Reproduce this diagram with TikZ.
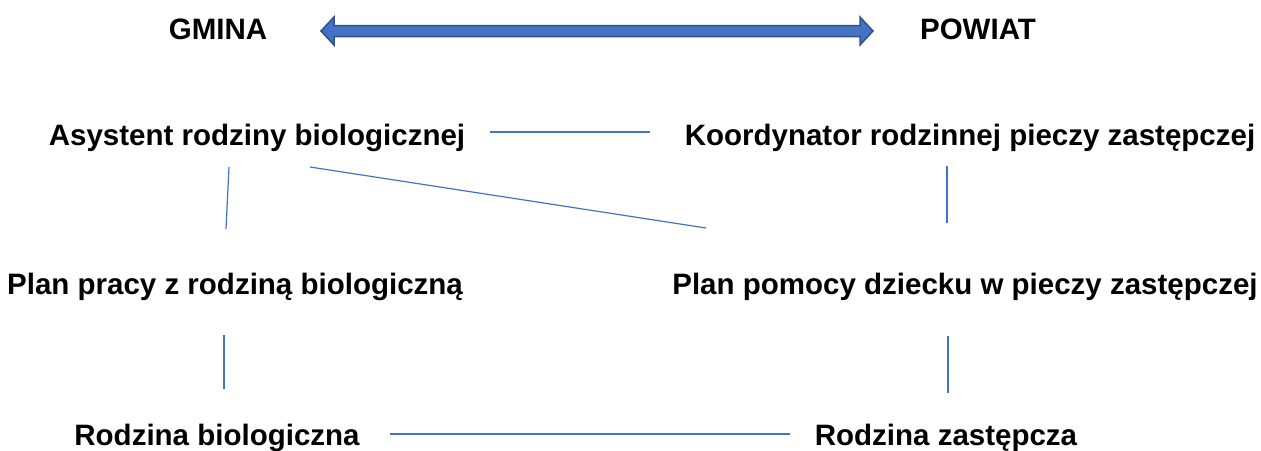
\documentclass[tikz,border=0pt]{standalone}
\usepackage{fontspec}
\setmainfont{Liberation Sans}
\definecolor{lineblue}{HTML}{4472C4}
\definecolor{arrowedge}{HTML}{2F528F}
\begin{document}
\begin{tikzpicture}[x=1pt,y=-1pt,
  lbl/.style={anchor=base,inner sep=0pt,font=\fontsize{29.5}{35}\selectfont\bfseries},
  conn/.style={draw=lineblue,line width=1.2pt}]
\useasboundingbox (0,0) rectangle (1261,450);
% headers
\node[lbl] (gmina) at (218,39) {GMINA};
\node[lbl] (powiat) at (978,39) {POWIAT};
% double arrow
\draw[fill=lineblue,draw=arrowedge,line width=1.5pt,line join=miter]
  (321,31) -- (334,17) -- (334,25.5) -- (860,25.5) -- (860,17) -- (873,31)
  -- (860,45) -- (860,36.5) -- (334,36.5) -- (334,45) -- cycle;
% labels
\node[lbl] (asyst) at (257,145) {Asystent rodziny biologicznej};
\node[lbl] (koord) at (970,145) {Koordynator rodzinnej pieczy zastępczej};
\node[lbl] (planA) at (235,294) {Plan pracy z rodziną biologiczną};
\node[lbl] (planB) at (965,294) {Plan pomocy dziecku w pieczy zastępczej};
\node[lbl] (rodzB) at (217,445) {Rodzina biologiczna};
\node[lbl] (rodzZ) at (946,445) {Rodzina zastępcza};
% connector end points
\coordinate (h1a) at (490,132);
\coordinate (h1b) at (650,132);
\coordinate (v1a) at (229,167);
\coordinate (v1b) at (226,229);
\coordinate (d1a) at (310,167);
\coordinate (d1b) at (706,228);
\coordinate (v2a) at (947,166);
\coordinate (v2b) at (947,223);
\coordinate (v3a) at (224,335);
\coordinate (v3b) at (224,389);
\coordinate (v4a) at (948,336);
\coordinate (v4b) at (948,393);
\coordinate (h2a) at (390,434);
\coordinate (h2b) at (790,434);
% connectors
\draw[conn] (h1a) -- (h1b);
\draw[conn] (v1a) -- (v1b);
\draw[conn] (d1a) -- (d1b);
\draw[conn] (v2a) -- (v2b);
\draw[conn] (v3a) -- (v3b);
\draw[conn] (v4a) -- (v4b);
\draw[conn] (h2a) -- (h2b);
\end{tikzpicture}
\end{document}
